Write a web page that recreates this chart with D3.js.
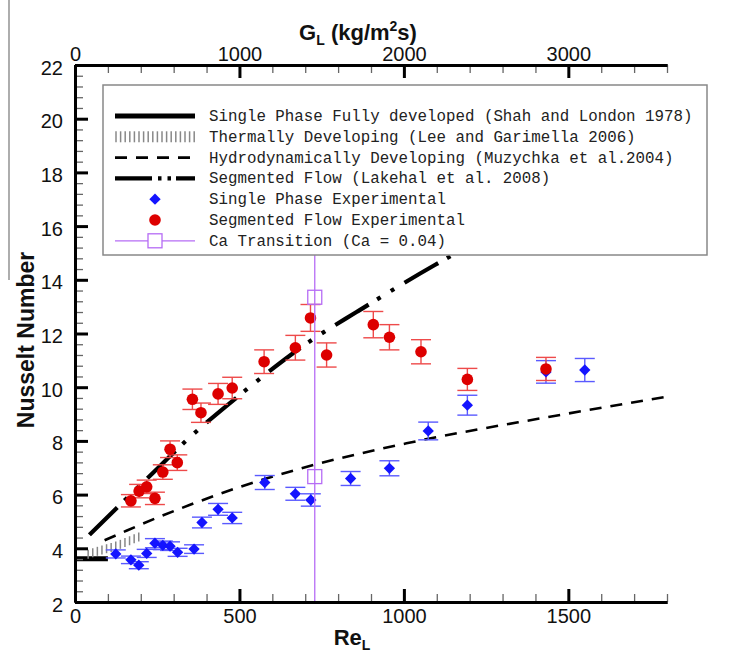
<html>
<script src='https://d3js.org/d3.v7.min.js'></script>
<style>
body {margin:0; background:#fff;}
.tick text {font-family: 'Liberation Sans', Arial, sans-serif; font-size: 20px; fill:#111;}
.title {font-family: 'Liberation Sans', Arial, sans-serif; font-weight: bold; fill:#111;}
.leg {font-family: 'Liberation Mono', 'Courier New', monospace; font-size: 15.8px; fill:#222;}
</style>
<body>
<svg width=751 height=652></svg>
<script>
// axis ticks
const xTicks = [0, 500, 1000, 1500];
const topTicks = [0, 1000, 2000, 3000];
const yTicks = [2, 4, 6, 8, 10, 12, 14, 16, 18, 20, 22];

// single phase experimental (blue diamonds)
const reSingle  = [124, 170, 194, 218, 243, 267, 289, 312, 362, 386, 435, 478, 577, 670, 717, 838, 956, 1074, 1193, 1432, 1550];
const nuSingle  = [3.79, 3.57, 3.37, 3.81, 4.19, 4.11, 4.08, 3.85, 3.97, 4.96, 5.45, 5.13, 6.45, 6.03, 5.8, 6.6, 6.98, 8.37, 9.33, 10.57, 10.64];
const errSingle = [0.15, 0.14, 0.13, 0.15, 0.17, 0.16, 0.16, 0.15, 0.16, 0.2, 0.22, 0.21, 0.26, 0.24, 0.23, 0.26, 0.28, 0.33, 0.37, 0.42, 0.43];

// segmented flow experimental (red circles)
const reSeg  = [170, 195, 218, 243, 267, 289, 311, 357, 383, 435, 478, 575, 670, 716, 765, 907, 956, 1052, 1193, 1432];
const nuSeg  = [5.77, 6.13, 6.29, 5.86, 6.84, 7.69, 7.19, 9.55, 9.05, 9.75, 9.97, 10.95, 11.47, 12.58, 11.2, 12.33, 11.86, 11.32, 10.29, 10.68];
const errSeg = [0.23, 0.25, 0.25, 0.23, 0.27, 0.31, 0.29, 0.38, 0.36, 0.39, 0.4, 0.44, 0.46, 0.5, 0.45, 0.49, 0.47, 0.45, 0.41, 0.43];

// correlations
const shahRe = [0, 100];
const shahNu = [3.61, 3.61];
const leeRe = [40, 80, 120, 160, 200];
const leeNu = [3.95, 4.1, 4.23, 4.42, 4.62];
const muzRe = [90, 150, 258, 350, 502, 725, 1008, 1444, 1800];
const muzNu = [4.3, 4.62, 5.18, 5.62, 6.29, 7.1, 7.91, 8.9, 9.65];
const lakRe = [44, 142, 250, 340, 500, 725, 856, 1094, 1250];
const lakNu = [4.5, 5.68, 6.96, 8.03, 9.7, 11.8, 12.8, 14.55, 15.6];

// Ca transition
const caRe = 729;
const caNu = [13.35, 6.67];
const caLine = [2, 15.5];

const legendLabels = [
  "Single Phase Fully developed (Shah and London 1978)",
  "Thermally Developing (Lee and Garimella 2006)",
  "Hydrodynamically Developing (Muzychka et al.2004)",
  "Segmented Flow (Lakehal et al. 2008)",
  "Single Phase Experimental",
  "Segmented Flow Experimental",
  "Ca Transition (Ca = 0.04)"
];

const svg = d3.select("svg");
const x = d3.scaleLinear().domain([0, 1800]).range([75, 667]);
const xTop = d3.scaleLinear().domain([0, 3600]).range([75, 667]);
const y = d3.scaleLinear().domain([2, 22]).range([602, 65]);

const blue = "#1414ff", red = "#dd0000", violet = "#b66cf5";

// stray frame line on left edge
svg.append("line").attr("x1", 9).attr("x2", 9).attr("y1", 0).attr("y2", 280)
  .attr("stroke", "#777").attr("stroke-width", 1.2);

const zip = (a, b) => a.map((v, i) => [v, b[i]]);
const line = d3.line().x(d => x(d[0])).y(d => y(d[1])).curve(d3.curveMonotoneX);

// Shah & London
svg.append("path").attr("d", line(zip(shahRe, shahNu)))
  .attr("fill", "none").attr("stroke", "#000").attr("stroke-width", 5);

// Lee & Garimella: vertical hatch along the curve
const leeInterp = d3.scaleLinear().domain(leeRe).range(leeNu);
const g = svg.append("g");
for (let px = x(leeRe[0]); px <= x(leeRe[leeRe.length - 1]); px += 4.6) {
  const yy = y(leeInterp(x.invert(px)));
  g.append("line").attr("x1", px).attr("x2", px).attr("y1", yy).attr("y2", yy + 9)
    .attr("stroke", "#888").attr("stroke-width", 1.5);
}

// Muzychka
svg.append("path").attr("d", line(zip(muzRe, muzNu)))
  .attr("fill", "none").attr("stroke", "#000").attr("stroke-width", 2.6)
  .attr("stroke-dasharray", "12,9");

// Lakehal
svg.append("path").attr("d", line(zip(lakRe, lakNu)))
  .attr("fill", "none").attr("stroke", "#000").attr("stroke-width", 4.2)
  .attr("stroke-dasharray", "39,10,4,12,4,12");

// error bars
function errorBars(re, nu, err, color) {
  const eg = svg.append("g").attr("stroke", color).attr("stroke-width", 1.4).attr("fill", "none");
  re.forEach((r, i) => {
    const cx = x(r), y0 = y(nu[i] - err[i]), y1 = y(nu[i] + err[i]);
    eg.append("line").attr("x1", cx).attr("x2", cx).attr("y1", y0).attr("y2", y1);
    eg.append("line").attr("x1", cx - 10).attr("x2", cx + 10).attr("y1", y0).attr("y2", y0);
    eg.append("line").attr("x1", cx - 10).attr("x2", cx + 10).attr("y1", y1).attr("y2", y1);
  });
}
errorBars(reSingle, nuSingle, errSingle, "#5a5aff");
errorBars(reSeg, nuSeg, errSeg, "#ee4a4a");

const diamond = d3.symbol().type(d3.symbolSquare).size(64);
svg.append("g").selectAll("path").data(zip(reSingle, nuSingle)).enter().append("path")
  .attr("d", diamond)
  .attr("transform", d => `translate(${x(d[0])},${y(d[1])}) rotate(45)`)
  .attr("fill", blue);

svg.append("g").selectAll("circle").data(zip(reSeg, nuSeg)).enter().append("circle")
  .attr("cx", d => x(d[0])).attr("cy", d => y(d[1])).attr("r", 5.8)
  .attr("fill", red);

// Ca transition
svg.append("line").attr("x1", x(caRe)).attr("x2", x(caRe))
  .attr("y1", y(caLine[0])).attr("y2", y(caLine[1]))
  .attr("stroke", violet).attr("stroke-width", 1.3);
svg.append("g").selectAll("rect").data(caNu).enter().append("rect")
  .attr("x", x(caRe) - 7).attr("y", d => y(d) - 7).attr("width", 14).attr("height", 14)
  .attr("fill", "none").attr("stroke", violet).attr("stroke-width", 1.3);

// legend
const lg = svg.append("g");
lg.append("rect").attr("x", 103).attr("y", 85).attr("width", 604).attr("height", 170)
  .attr("fill", "#fff").attr("stroke", "#888").attr("stroke-width", 1.5);
const rowY = i => 116 + i * 20.8;
legendLabels.forEach((t, i) => {
  lg.append("text").attr("class", "leg").attr("x", 209).attr("y", rowY(i) + 5).text(t);
});
lg.append("line").attr("x1", 115).attr("x2", 195).attr("y1", rowY(0)).attr("y2", rowY(0))
  .attr("stroke", "#000").attr("stroke-width", 5);
for (let px = 116; px <= 195; px += 4.6) {
  lg.append("line").attr("x1", px).attr("x2", px).attr("y1", rowY(1) - 5.5).attr("y2", rowY(1) + 5.5)
    .attr("stroke", "#888").attr("stroke-width", 1.5);
}
lg.append("line").attr("x1", 115).attr("x2", 195).attr("y1", rowY(2)).attr("y2", rowY(2))
  .attr("stroke", "#000").attr("stroke-width", 2.6).attr("stroke-dasharray", "12,9");
lg.append("line").attr("x1", 115).attr("x2", 195).attr("y1", rowY(3)).attr("y2", rowY(3))
  .attr("stroke", "#000").attr("stroke-width", 4.2).attr("stroke-dasharray", "37,6,3.5,6,3.5,5");
lg.append("path").attr("d", diamond).attr("transform", `translate(155,${rowY(4)}) rotate(45)`).attr("fill", blue);
lg.append("circle").attr("cx", 155).attr("cy", rowY(5)).attr("r", 5.8).attr("fill", red);
lg.append("line").attr("x1", 115).attr("x2", 195).attr("y1", rowY(6)).attr("y2", rowY(6))
  .attr("stroke", violet).attr("stroke-width", 1.3);
lg.append("rect").attr("x", 148).attr("y", rowY(6) - 7).attr("width", 14).attr("height", 14)
  .attr("fill", "#fff").attr("stroke", violet).attr("stroke-width", 1.3);

// axes
function styleAxis(sel, major) {
  sel.select(".domain").attr("stroke", "#000").attr("stroke-width", 3);
  sel.selectAll(".tick line").attr("stroke", major ? "#000" : "#666").attr("stroke-width", major ? 3 : 1.3);
}
const yMinor = d3.range(2, 22.01, 0.4);
const xMinor = d3.range(0, 1800.1, 100);
const topMinor = d3.range(0, 3600.1, 200);
const fmt = d3.format("d");

const gl = svg.append("g").attr("transform", "translate(75,0)");
gl.call(d3.axisLeft(y).tickValues(yMinor).tickSize(-8).tickSizeOuter(0).tickFormat("")).call(styleAxis, false);
const gl2 = svg.append("g").attr("transform", "translate(75,0)");
gl2.call(d3.axisLeft(y).tickValues(yTicks).tickSize(-13).tickSizeOuter(0).tickPadding(12).tickFormat(fmt)).call(styleAxis, true);
gl2.selectAll(".tick text").attr("dy", "0.45em");

const gb = svg.append("g").attr("transform", "translate(0,602)");
gb.call(d3.axisBottom(x).tickValues(xMinor).tickSize(-8).tickSizeOuter(0).tickFormat("")).call(styleAxis, false);
const gb2 = svg.append("g").attr("transform", "translate(0,602)");
gb2.call(d3.axisBottom(x).tickValues(xTicks).tickSize(-13).tickSizeOuter(0).tickPadding(7).tickFormat(fmt)).call(styleAxis, true);

const gt = svg.append("g").attr("transform", "translate(0,65)");
gt.call(d3.axisTop(xTop).tickValues(topMinor).tickSize(-8).tickSizeOuter(0).tickFormat("")).call(styleAxis, false);
const gt2 = svg.append("g").attr("transform", "translate(0,65)");
gt2.call(d3.axisTop(xTop).tickValues(topTicks).tickSize(-13).tickSizeOuter(0).tickPadding(4).tickFormat(fmt)).call(styleAxis, true);

// titles
const tt = svg.append("text").attr("class", "title").attr("x", 358).attr("y", 40)
  .attr("text-anchor", "middle").attr("font-size", 22);
tt.append("tspan").text("G");
tt.append("tspan").attr("font-size", 14).attr("dy", 5).text("L");
tt.append("tspan").attr("dy", -5).text(" (kg/m");
tt.append("tspan").attr("font-size", 14).attr("dy", -9).text("2");
tt.append("tspan").attr("dy", 9).text("s)");

svg.append("text").attr("class", "title").attr("font-size", 23)
  .attr("transform", "translate(34,340) rotate(-90)").attr("text-anchor", "middle")
  .text("Nusselt Number");

const rt = svg.append("text").attr("class", "title").attr("x", 352).attr("y", 645)
  .attr("text-anchor", "middle").attr("font-size", 22);
rt.append("tspan").text("Re");
rt.append("tspan").attr("font-size", 14).attr("dy", 5).text("L");
</script>
</body>
</html>
